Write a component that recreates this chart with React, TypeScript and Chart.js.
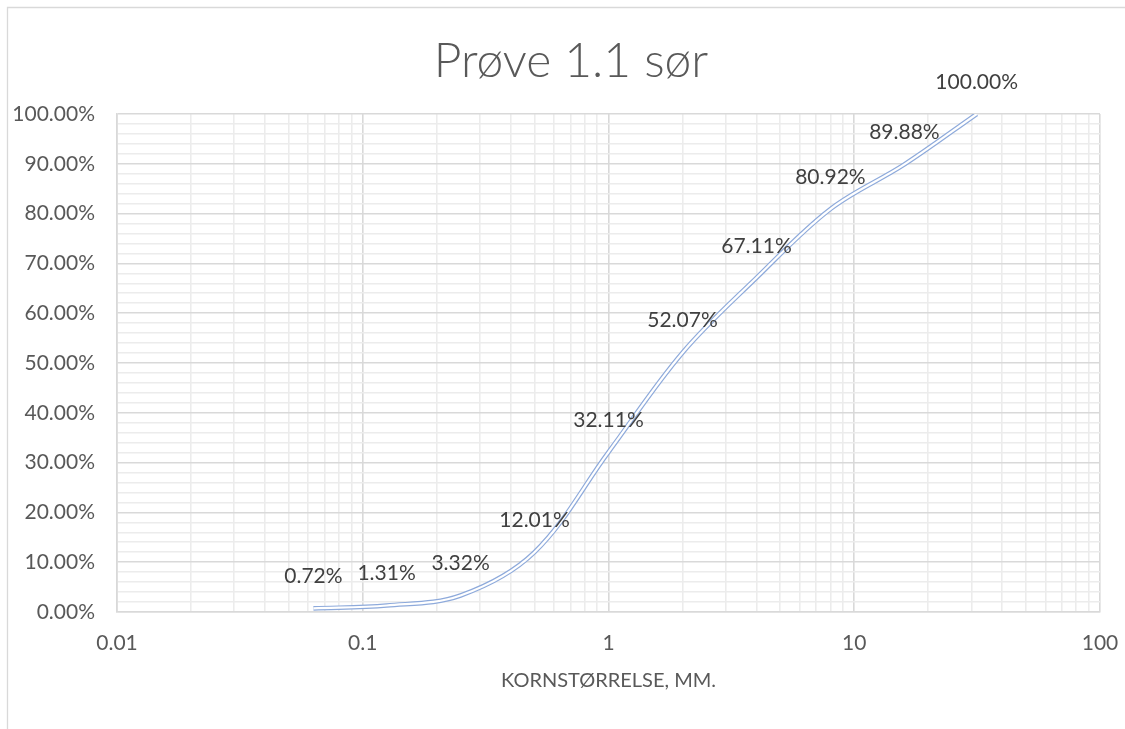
import React, { useEffect, useRef } from "react";
import { Chart, registerables } from "chart.js";

Chart.register(...registerables);

// ---- data ----
const sieveSizes = [0.063, 0.125, 0.25, 0.5, 1, 2, 4, 8, 16, 31.5];
const passingPercent = [0.72, 1.31, 3.32, 12.01, 32.11, 52.07, 67.11, 80.92, 89.88, 100];
const xMajorTicks = [0.01, 0.1, 1, 10, 100];
const xTickLabels = ["0.01", "0.1", "1", "10", "100"];
const chartTitle = "Prøve 1.1 sør";
const xAxisTitle = "KORNSTØRRELSE, MM.";

const FONT = "Lato, 'Open Sans', sans-serif";
const LINE_BLUE = "#8eaadb";

function buildLogTicks(): number[] {
  const out: number[] = [];
  for (let i = 0; i < xMajorTicks.length - 1; i++) {
    for (let m = 1; m <= 9; m++) out.push(parseFloat((xMajorTicks[i] * m).toPrecision(6)));
  }
  out.push(xMajorTicks[xMajorTicks.length - 1]);
  return out;
}

function isMajor(v: number): boolean {
  return xMajorTicks.some((m) => Math.abs(m - v) / m < 1e-6);
}

const decorPlugin = {
  id: "decor",
  beforeDraw(chart: any) {
    const ctx = chart.ctx;
    ctx.save();
    ctx.fillStyle = "#ffffff";
    ctx.fillRect(0, 0, chart.width, chart.height);
    ctx.strokeStyle = "#d9d9d9";
    ctx.lineWidth = 1.3;
    ctx.beginPath();
    ctx.moveTo(7.5, chart.height + 5);
    ctx.lineTo(7.5, 7.5);
    ctx.lineTo(chart.width + 5, 7.5);
    ctx.stroke();
    ctx.restore();
  },
  afterDraw(chart: any) {
    const ctx = chart.ctx;
    const area = chart.chartArea;
    ctx.save();
    ctx.fillStyle = "#595959";
    ctx.textAlign = "center";
    ctx.textBaseline = "middle";
    ctx.font = `300 48px ${FONT}`;
    ctx.fillText(chartTitle, 571, 62);
    ctx.font = `400 20px ${FONT}`;
    ctx.fillText(xAxisTitle, (area.left + area.right) / 2, 681);
    ctx.restore();
  },
  afterDatasetsDraw(chart: any) {
    const ctx = chart.ctx;
    const meta = chart.getDatasetMeta(0);
    ctx.save();
    ctx.fillStyle = "#404040";
    ctx.textAlign = "center";
    ctx.textBaseline = "middle";
    ctx.font = `400 21px ${FONT}`;
    meta.data.forEach((pt: any, i: number) => {
      ctx.fillText(passingPercent[i].toFixed(2) + "%", pt.x, pt.y - 32);
    });
    ctx.restore();
  },
};

export default function App() {
  const ref = useRef<HTMLCanvasElement>(null);
  useEffect(() => {
    if (!ref.current) return;
    const points = sieveSizes.map((x, i) => ({ x, y: passingPercent[i] }));
    const chart = new Chart(ref.current, {
      type: "line",
      data: {
        datasets: [
          {
            data: points,
            borderColor: "#ffffff",
            borderWidth: 2.2,
            pointRadius: 0,
            tension: 0.35,
            fill: false,
          },
          {
            data: points,
            borderColor: LINE_BLUE,
            borderWidth: 4.6,
            pointRadius: 0,
            tension: 0.35,
            fill: false,
          },
        ],
      },
      options: {
        animation: false,
        responsive: false,
        maintainAspectRatio: false,
        layout: { padding: { top: 114, right: 25, left: 0, bottom: 0 } },
        plugins: { legend: { display: false }, tooltip: { enabled: false }, title: { display: false } },
        scales: {
          x: {
            type: "logarithmic",
            min: 0.01,
            max: 100,
            afterBuildTicks(scale: any) {
              scale.ticks = buildLogTicks().map((v) => ({ value: v, major: isMajor(v) }));
            },
            afterFit(scale: any) {
              scale.height = 117;
              scale.paddingLeft = 0;
              scale.paddingRight = 0;
            },
            ticks: {
              autoSkip: false,
              maxRotation: 0,
              padding: 19,
              color: "#595959",
              font: { family: FONT, size: 21 },
              callback(value: any) {
                const idx = xMajorTicks.findIndex((m) => Math.abs(m - value) / m < 1e-6);
                return idx >= 0 ? xTickLabels[idx] : "";
              },
            },
            grid: {
              drawTicks: false,
              color: (c: any) => (c.tick && isMajor(c.tick.value) ? "#d9d9d9" : "#ececec"),
              lineWidth: 1.6,
            },
            border: { display: true, color: "#d9d9d9", width: 1.6 },
          },
          y: {
            min: 0,
            max: 100,
            afterBuildTicks(scale: any) {
              const t: any[] = [];
              for (let v = 0; v <= 100; v += 2) t.push({ value: v });
              scale.ticks = t;
            },
            afterFit(scale: any) {
              scale.width = 117;
              scale.paddingTop = 0;
              scale.paddingBottom = 0;
            },
            ticks: {
              autoSkip: false,
              padding: 22,
              color: "#595959",
              font: { family: FONT, size: 21 },
              callback(value: any) {
                return value % 10 === 0 ? Number(value).toFixed(2) + "%" : "";
              },
            },
            grid: {
              drawTicks: false,
              color: (c: any) => (c.tick && c.tick.value % 10 === 0 ? "#d9d9d9" : "#ececec"),
              lineWidth: 1.6,
            },
            border: { display: true, color: "#d9d9d9", width: 1.6 },
          },
        },
      },
      plugins: [decorPlugin],
    });
    return () => chart.destroy();
  }, []);
  return (
    <div style={{ position: "fixed", left: 0, top: 0, width: 1125, height: 729, background: "#fff" }}>
      <canvas ref={ref} width={1125} height={729} style={{ display: "block", width: 1125, height: 729 }} />
    </div>
  );
}
